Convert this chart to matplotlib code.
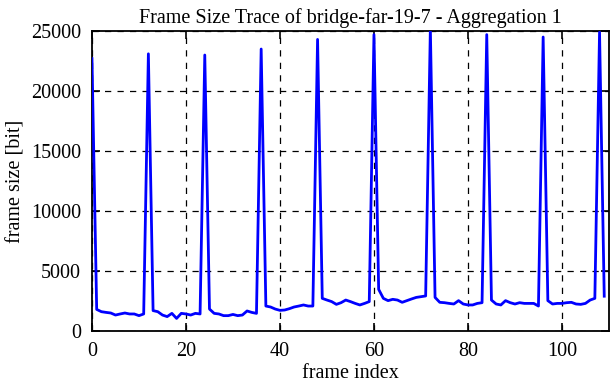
import numpy as np
import matplotlib
matplotlib.use("Agg")
import matplotlib.pyplot as plt

# frame sizes in bit, frames 0..109 (GOP of 12, I-frames at multiples of 12)
frame_size = [
    22700, 1800, 1610, 1550, 1500, 1330, 1420, 1500, 1420, 1420, 1280, 1420,
    23100, 1700, 1610, 1330, 1200, 1470, 1050, 1470, 1420, 1330, 1470, 1420,
    23000, 1830, 1470, 1420, 1280, 1280, 1380, 1280, 1330, 1670, 1550, 1470,
    23500, 2080, 2000, 1830, 1720, 1750, 1860, 2000, 2080, 2170, 2080, 2080,
    24300, 2720, 2580, 2450, 2220, 2360, 2580, 2450, 2300, 2170, 2300, 2450,
    24700, 3470, 2720, 2530, 2640, 2580, 2390, 2530, 2670, 2800, 2860, 2920,
    25200, 2800, 2390, 2360, 2300, 2250, 2530, 2250, 2170, 2170, 2300, 2360,
    24700, 2580, 2250, 2170, 2530, 2360, 2250, 2360, 2300, 2300, 2300, 2080,
    24500, 2530, 2250, 2300, 2300, 2360, 2390, 2250, 2220, 2300, 2580, 2720,
    24900, 2900,
]
frame_index = np.arange(len(frame_size))

x_ticks = [0, 20, 40, 60, 80, 100]
y_ticks = [0, 5000, 10000, 15000, 20000, 25000]

plt.rcParams['font.family'] = ['Liberation Serif', 'DejaVu Serif']
fs = 14.5

fig = plt.figure(figsize=(6.12, 3.82), dpi=100)
ax = fig.add_axes([0.1503, 0.1335, 0.8447, 0.7853])

ax.plot(frame_index, frame_size, color=(0, 0, 1), lw=2.0, zorder=3)

ax.set_xlim(0, 110)
ax.set_ylim(0, 25000)
ax.set_xticks(x_ticks)
ax.set_yticks(y_ticks)
ax.grid(True, color='black', linestyle=(0, (5, 5)), linewidth=0.9)
ax.tick_params(direction='in', length=6, width=1.2, top=True, right=True,
               labelsize=fs, pad=8, colors='black')
for s in ax.spines.values():
    s.set_linewidth(1.3)

ax.set_title("Frame Size Trace of bridge-far-19-7 - Aggregation 1", fontsize=fs, pad=6)
ax.set_xlabel("frame index", fontsize=fs, labelpad=2)
ax.set_ylabel("frame size [bit]", fontsize=fs, labelpad=4)

fig.savefig("out.png", dpi=100)
